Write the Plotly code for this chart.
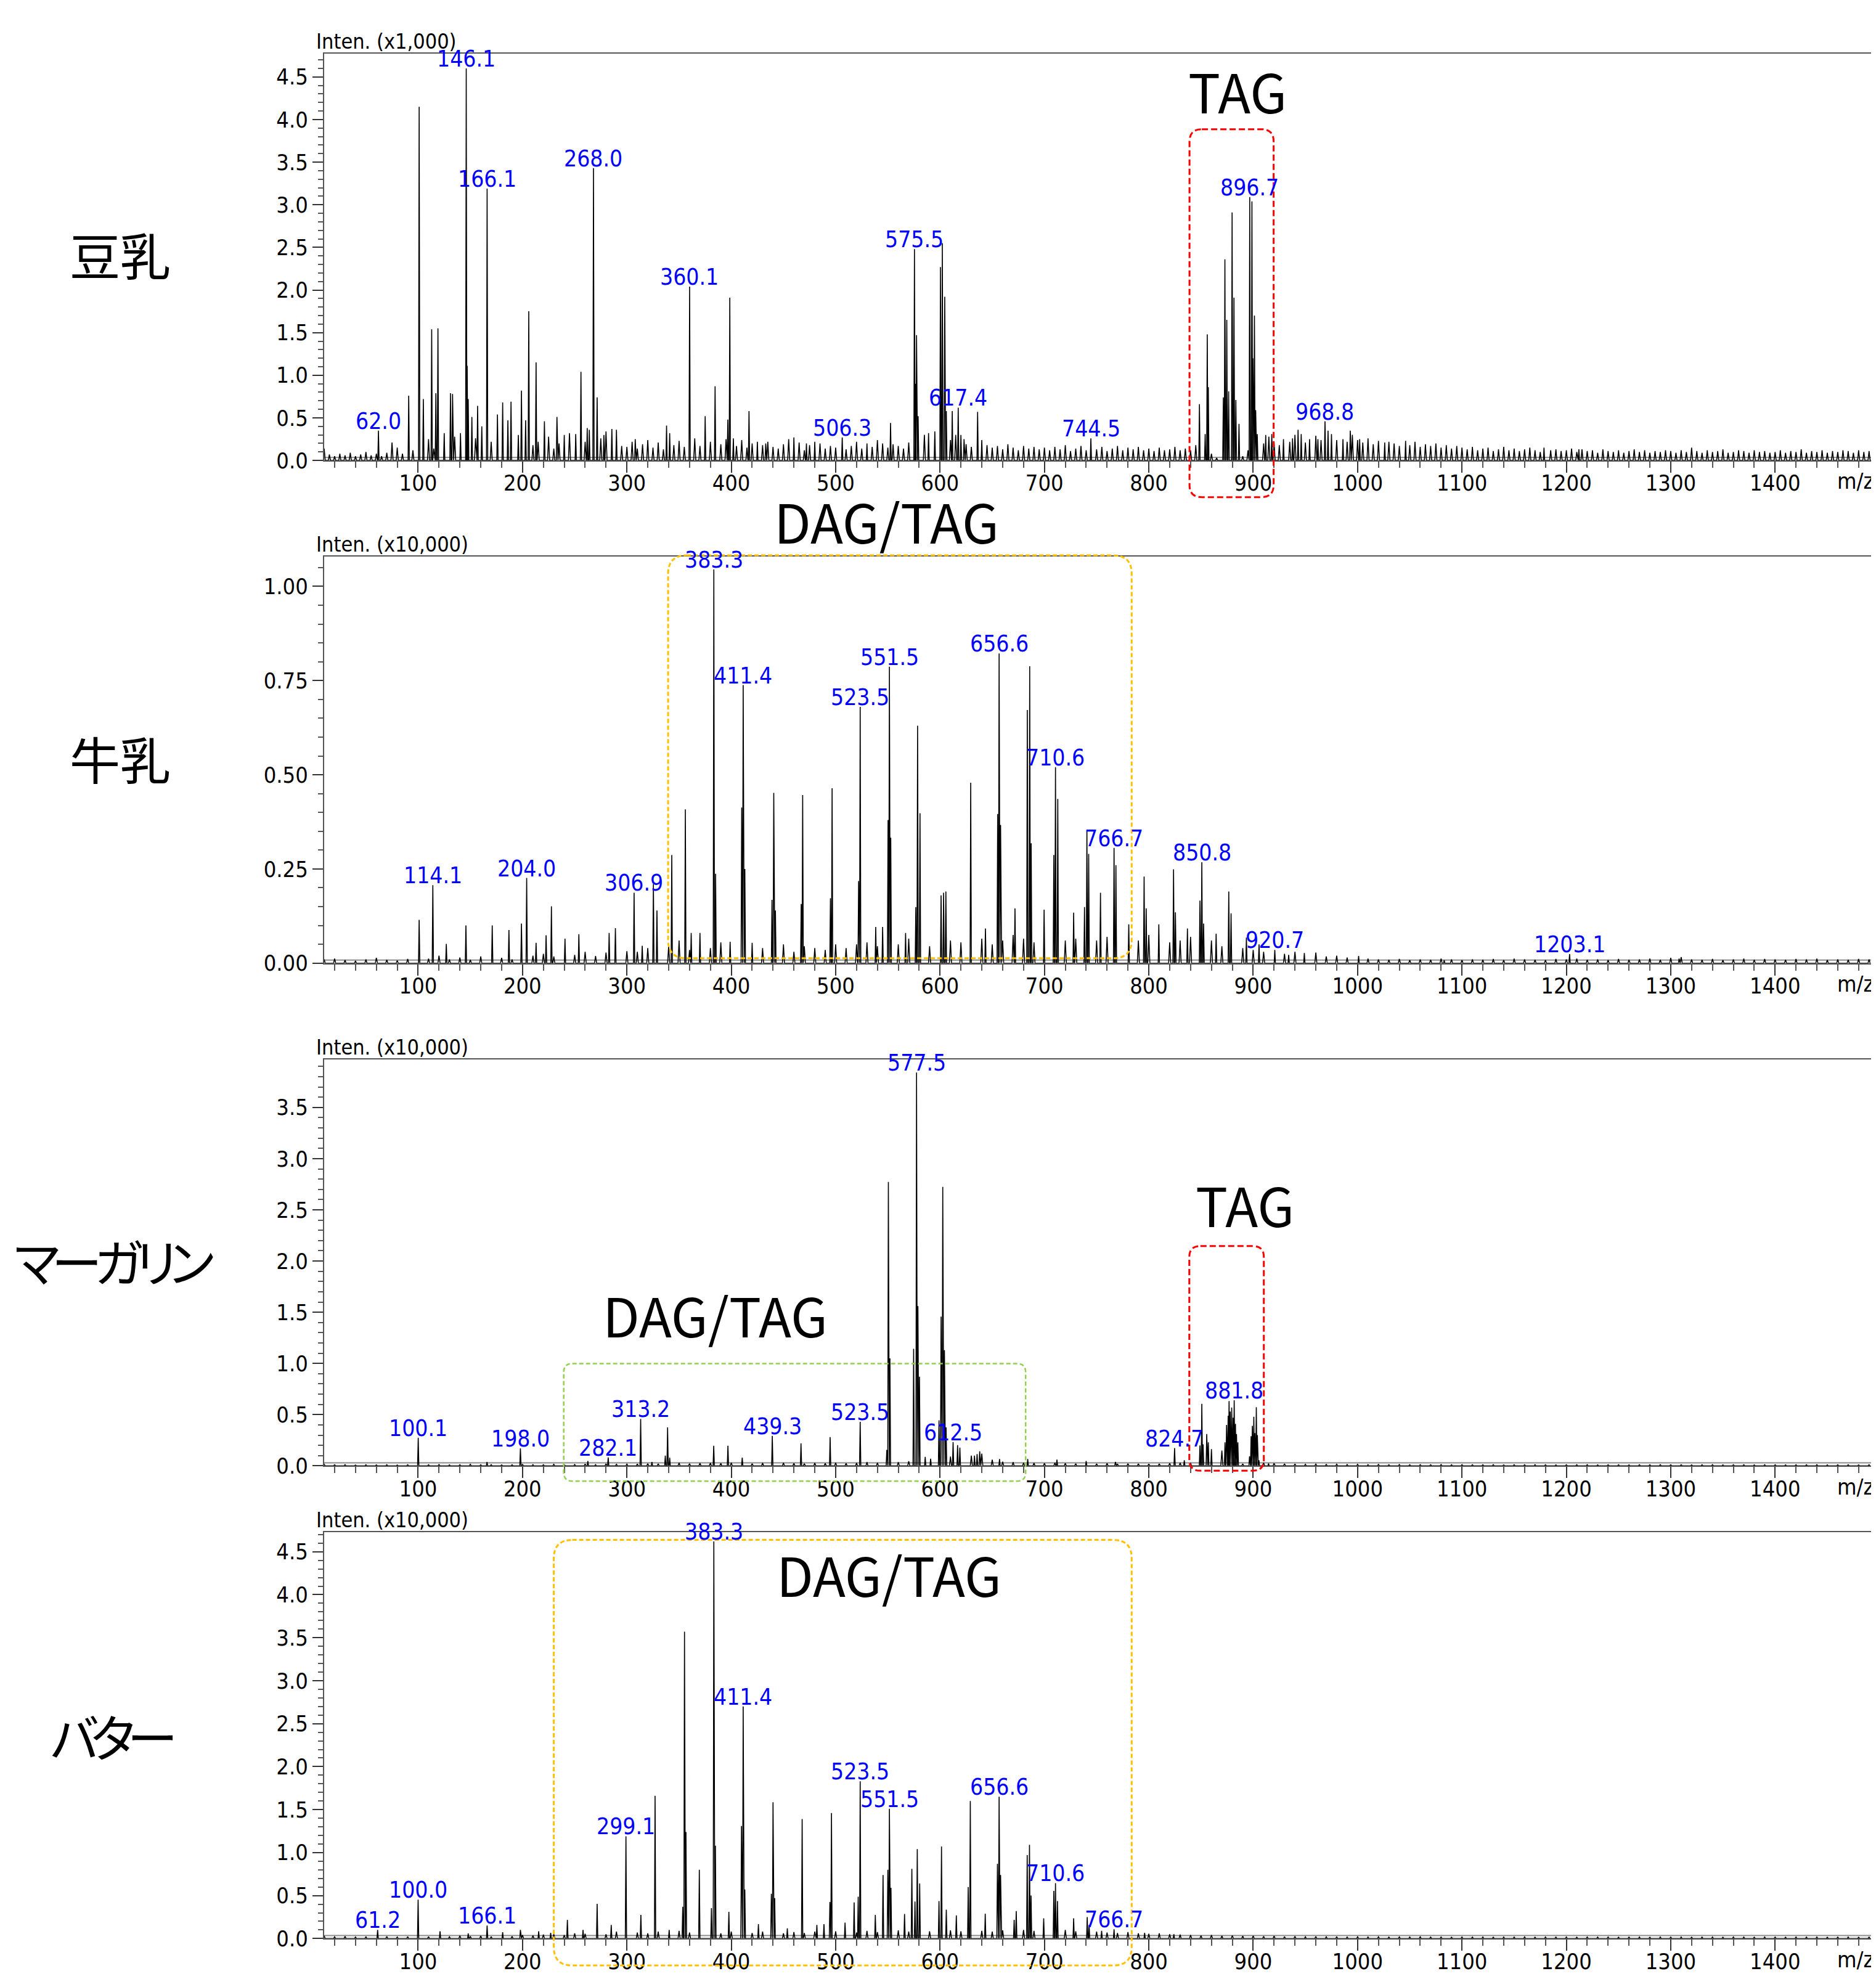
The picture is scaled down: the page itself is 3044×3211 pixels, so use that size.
import plotly.graph_objects as go

W, H = 3044, 3211

# ---------------- data (m/z, intensity) ----------------
# 豆乳 (Inten. x1,000)
SOY_MZ = [62.0, 91, 101, 105, 113, 117, 119, 125, 131, 133, 140.6, 146.1, 147, 148, 151.5, 157, 161,
          166.1, 176, 181, 186, 189, 196, 199, 203, 206, 213, 221, 233, 240, 251, 256, 262, 264, 268.0,
          271.5, 278, 285.6, 290, 308, 338, 341, 360.1, 375, 384.5, 396.7, 398.6, 402, 417, 425, 433,
          460, 472, 480, 506.3, 530, 552.6, 575.5, 576.5, 577.5, 579, 589, 595, 600.4, 602.2, 604.5,
          606, 611.7, 617.4, 620, 623, 636, 640, 744.5, 848.5, 854, 856, 857, 871.4, 872.9, 874.7,
          876.5, 879.8, 881.6, 883.4, 886.4, 896.7, 898.8, 899.7, 901.2, 902.4, 903.9, 912, 917.8, 929,
          937.7, 943, 946, 954, 962, 968.8, 971.7, 975, 986, 993, 1002, 1026, 1046, 1178.6, 1212]
SOY_INT = [0.35, 0.76, 4.15, 0.72, 1.54, 0.79, 1.55, 0.32, 0.79, 0.78, 0.32, 4.6, 1.11, 0.72, 0.51, 0.64, 0.40,
           3.19, 0.54, 0.68, 0.47, 0.69, 0.30, 0.82, 0.47, 1.75, 1.15, 0.46, 0.51, 0.30, 0.31, 1.04, 0.38, 0.36, 3.43,
           0.74, 0.30, 0.37, 0.36, 0.25, 0.41, 0.32, 2.04, 0.52, 0.87, 0.48, 1.91, 0.26, 0.58, 0.22, 0.20,
           0.27, 0.20, 0.22, 0.27, 0.20, 0.44, 2.48, 0.90, 1.47, 0.52, 0.32, 0.34, 2.27, 2.55, 1.92,
           0.58, 0.58, 0.62, 0.30, 0.25, 0.57, 0.24, 0.26, 0.66, 0.31, 1.48, 0.86, 0.74, 2.36, 1.65,
           0.81, 2.91, 1.91, 0.71, 0.43, 3.09, 3.04, 1.20, 1.70, 0.59, 0.31, 0.30, 0.31, 0.25,
           0.26, 0.36, 0.31, 0.25, 0.25, 0.46, 0.35, 0.31, 0.25, 0.35, 0.25, 0.21, 0.23, 0.15, 0.13]
SOY_NOISE_START, SOY_NOISE_STEP = 10, 5
SOY_NOISE = [0.14, 0.07, 0.05, 0.08, 0.06, 0.09, 0.05, 0.07, 0.10, 0.06, 0.08, 0.05, 0.09, 0.21, 0.15, 0.08, 0.06, 0.12,
             0.22, 0.18, 0.25, 0.14, 0.30, 0.20, 0.16, 0.28, 0.12, 0.24, 0.19, 0.26, 0.15, 0.31, 0.22, 0.18, 0.27, 0.20, 0.35, 0.24,
             0.30, 0.26, 0.18, 0.22, 0.16, 0.28, 0.14, 0.20, 0.25, 0.32, 0.28, 0.35, 0.22, 0.30, 0.18, 0.26, 0.34, 0.20, 0.24, 0.17,
             0.16, 0.22, 0.14, 0.19, 0.24, 0.15, 0.21, 0.13, 0.28, 0.18, 0.23, 0.16, 0.20, 0.26, 0.17, 0.14, 0.22, 0.30, 0.19, 0.25,
             0.21, 0.17, 0.24, 0.15, 0.20, 0.13, 0.18, 0.22, 0.16, 0.14, 0.19, 0.25, 0.15, 0.21, 0.12, 0.18, 0.16, 0.20, 0.14, 0.17,
             0.15, 0.19, 0.13, 0.17, 0.22, 0.14, 0.18, 0.16, 0.24, 0.20, 0.15, 0.19, 0.17, 0.14, 0.21, 0.13, 0.18, 0.30, 0.22, 0.20,
             0.35, 0.28, 0.24, 0.30, 0.22, 0.19, 0.16, 0.20, 0.14, 0.18, 0.15, 0.17, 0.13, 0.19, 0.15, 0.12, 0.17, 0.14, 0.16, 0.13,
             0.15, 0.12, 0.16, 0.13, 0.18, 0.11, 0.14, 0.17, 0.12, 0.15, 0.13, 0.16, 0.11, 0.14, 0.17, 0.12, 0.15, 0.13, 0.16, 0.12,
             0.14, 0.11, 0.15, 0.12, 0.13, 0.16, 0.12, 0.14, 0.12, 0.18, 0.42, 0.55, 0.08, 0.03, 0.30, 0.90, 1.10, 0.55, 0.05, 0.12,
             1.30, 0.25, 0.20, 0.28, 0.22, 0.18, 0.26, 0.22, 0.30, 0.27, 0.21, 0.25, 0.29, 0.24, 0.33, 0.28, 0.24, 0.27, 0.22, 0.30,
             0.24, 0.21, 0.26, 0.19, 0.23, 0.18, 0.22, 0.20, 0.17, 0.21, 0.18, 0.22, 0.16, 0.19, 0.17, 0.20, 0.15, 0.18, 0.14, 0.17,
             0.15, 0.13, 0.16, 0.12, 0.14, 0.15, 0.11, 0.13, 0.16, 0.12, 0.14, 0.11, 0.13, 0.15, 0.12, 0.10, 0.14, 0.12, 0.13, 0.11,
             0.12, 0.14, 0.10, 0.13, 0.11, 0.12, 0.09, 0.13, 0.11, 0.10, 0.12, 0.09, 0.11, 0.13, 0.10, 0.12, 0.09, 0.11, 0.10, 0.12,
             0.11, 0.09, 0.12, 0.10, 0.15, 0.11, 0.09, 0.12, 0.10, 0.11, 0.13, 0.09, 0.10, 0.12, 0.11, 0.09, 0.12, 0.10, 0.11, 0.09,
             0.10, 0.12, 0.09, 0.11, 0.10, 0.13, 0.09, 0.11, 0.10, 0.12, 0.09, 0.11, 0.10, 0.12, 0.11, 0.09, 0.12, 0.10, 0.11, 0.13]
SOY_LABELS = ["62.0", "146.1", "166.1", "268.0", "360.1", "506.3", "575.5", "617.4", "744.5", "896.7", "968.8"]

# 牛乳 (Inten. x10,000)
MILK_MZ = [101, 114.1, 127, 145.8, 171, 187, 199, 204.0, 213, 222.6, 227.7, 240.7, 254, 283, 289, 306.9,
           314.7, 325.4, 328.8, 343, 356, 361.6, 370, 383.3, 385, 398.9, 410, 411.4, 413, 420, 439, 440.7,
           442.3, 467, 468.4, 495, 496.6, 522, 523.5, 538.4, 545, 550.2, 551.5, 552.8, 567, 576.8, 578.5,
           580.8, 601, 603.4, 605.6, 629.4, 643.5, 655.2, 656.6, 658, 671.8, 683.6, 685.9, 687.3, 699.7,
           709, 710.6, 712.8, 728, 738.4, 740.7, 742.4, 753.7, 766.7, 768.5, 780.8, 795.5, 797.5, 809.6,
           823.7, 825.5, 837, 849, 850.8, 852.5, 864.5, 876.6, 878.8, 893.5, 905.6, 920.7, 934, 949,
           1001, 1083, 1203.1, 1308]
MILK_INT = [0.115, 0.207, 0.051, 0.10, 0.10, 0.088, 0.105, 0.226, 0.054, 0.074, 0.151, 0.065, 0.077, 0.08, 0.093, 0.187,
            0.046, 0.21, 0.14, 0.287, 0.408, 0.08, 0.08, 1.045, 0.237, 0.057, 0.413, 0.738, 0.25, 0.054, 0.168, 0.452,
            0.14, 0.157, 0.446, 0.172, 0.464, 0.218, 0.68, 0.096, 0.096, 0.38, 0.787, 0.333, 0.08, 0.149, 0.63,
            0.398, 0.18, 0.187, 0.19, 0.479, 0.092, 0.396, 0.822, 0.367, 0.145, 0.672, 0.788, 0.318, 0.142,
            0.287, 0.52, 0.436, 0.134, 0.149, 0.352, 0.29, 0.187, 0.306, 0.26, 0.103, 0.23, 0.145, 0.103,
            0.249, 0.135, 0.092, 0.166, 0.268, 0.105, 0.078, 0.19, 0.132, 0.068, 0.05, 0.035, 0.022, 0.027,
            0.019, 0.008, 0.024, 0.012]
MILK_NOISE_START, MILK_NOISE_STEP = 10, 10
MILK_NOISE = [0.010, 0.012, 0.008, 0.006, 0.010, 0.014, 0.009, 0.007, 0.011, 0.008,
              0.012, 0.020, 0.010, 0.015, 0.009, 0.018, 0.011, 0.014, 0.010, 0.016,
              0.020, 0.025, 0.018, 0.035, 0.022, 0.030, 0.019, 0.028, 0.024, 0.032,
              0.030, 0.040, 0.025, 0.045, 0.060, 0.035, 0.050, 0.040, 0.055, 0.060,
              0.045, 0.050, 0.040, 0.035, 0.050, 0.030, 0.045, 0.040, 0.035, 0.050,
              0.040, 0.050, 0.055, 0.045, 0.060, 0.050, 0.065, 0.055, 0.045, 0.070,
              0.060, 0.055, 0.070, 0.065, 0.050, 0.060, 0.075, 0.065, 0.055, 0.080,
              0.070, 0.060, 0.065, 0.075, 0.060, 0.070, 0.055, 0.065, 0.060, 0.075,
              0.065, 0.055, 0.060, 0.070, 0.050, 0.060, 0.045, 0.055, 0.040, 0.035,
              0.030, 0.038, 0.025, 0.030, 0.022, 0.028, 0.018, 0.020, 0.015, 0.022,
              0.012, 0.010, 0.009, 0.011, 0.008, 0.010, 0.009, 0.012, 0.010, 0.008,
              0.010, 0.009, 0.011, 0.008, 0.012, 0.010, 0.009, 0.008, 0.011, 0.010,
              0.012, 0.009, 0.010, 0.008, 0.011, 0.009, 0.010, 0.012, 0.009, 0.014,
              0.016, 0.010, 0.009, 0.011, 0.008, 0.010, 0.012, 0.009, 0.011, 0.010,
              0.009, 0.011, 0.010, 0.012, 0.008, 0.010, 0.009, 0.011, 0.010]
MILK_LABELS = ["114.1", "204.0", "306.9", "383.3", "411.4", "523.5", "551.5", "656.6", "710.6",
               "766.7", "850.8", "920.7", "1203.1"]

# マーガリン (Inten. x10,000)
MARG_MZ = [100.1, 166, 198.0, 262.6, 282.1, 313.2, 324, 336.8, 339, 341, 383.2, 396.8, 410.5, 439.3, 466.8,
           494.7, 523.5, 549, 550.5, 552, 574.7, 577.5, 578.8, 580.3, 585.8, 591, 599, 601, 602.6, 604.2,
           605.8, 612.5, 616.8, 619, 633, 635.5, 638, 657, 684, 712, 740, 768, 824.7, 834, 849, 850.8,
           852, 855.5, 857, 860, 873, 874.5, 876, 876.9, 878, 879.4, 880.8, 881.8, 883, 884, 885.3,
           896.5, 898, 899.2, 900.6, 901.6, 903, 904, 905.5, 914.7]
MARG_INT = [0.274, 0.038, 0.17, 0.047, 0.082, 0.458, 0.038, 0.10, 0.375, 0.08, 0.197, 0.197, 0.08, 0.293, 0.219,
            0.28, 0.43, 0.156, 2.773, 1.05, 1.143, 3.84, 1.56, 0.87, 0.088, 0.07, 0.444, 1.458, 2.724, 1.13,
            0.375, 0.233, 0.203, 0.178, 0.10, 0.115, 0.142, 0.066, 0.066, 0.06, 0.047, 0.038, 0.173, 0.054, 0.20, 0.605,
            0.21, 0.31, 0.23, 0.163, 0.23, 0.40, 0.49, 0.633, 0.53, 0.57, 0.47, 0.64, 0.41, 0.31, 0.23,
            0.093, 0.29, 0.39, 0.48, 0.32, 0.573, 0.30, 0.054, 0.024]
MARG_NOISE_START, MARG_NOISE_STEP = 10, 10
MARG_NOISE = [0.015, 0.010, 0.012, 0.008, 0.010, 0.009, 0.011, 0.008, 0.010, 0.012,
              0.010, 0.013, 0.009, 0.011, 0.015, 0.010, 0.012, 0.009, 0.011, 0.014,
              0.012, 0.010, 0.015, 0.011, 0.013, 0.018, 0.012, 0.020, 0.015, 0.017,
              0.018, 0.022, 0.020, 0.025, 0.030, 0.022, 0.026, 0.028, 0.024, 0.030,
              0.026, 0.022, 0.028, 0.024, 0.030, 0.025, 0.022, 0.028, 0.024, 0.030,
              0.025, 0.028, 0.035, 0.030, 0.040, 0.035, 0.045, 0.060, 0.050, 0.070,
              0.090, 0.080, 0.100, 0.120, 0.060, 0.040, 0.035, 0.030, 0.028, 0.025,
              0.030, 0.025, 0.022, 0.026, 0.020, 0.024, 0.018, 0.022, 0.020, 0.018,
              0.020, 0.025, 0.030, 0.028, 0.150, 0.040, 0.150, 0.300, 0.020, 0.250,
              0.030, 0.025, 0.020, 0.018, 0.015, 0.017, 0.014, 0.016, 0.013, 0.015,
              0.012, 0.014, 0.011, 0.013, 0.010, 0.012, 0.011, 0.013, 0.010, 0.012,
              0.011, 0.010, 0.012, 0.009, 0.011, 0.010, 0.012, 0.010, 0.009, 0.011,
              0.010, 0.012, 0.009, 0.011, 0.010, 0.009, 0.011, 0.010, 0.012, 0.010,
              0.011, 0.009, 0.010, 0.012, 0.009, 0.011, 0.010, 0.009, 0.011, 0.010,
              0.009, 0.011, 0.010, 0.012, 0.009, 0.010, 0.011, 0.009, 0.010]
MARG_LABELS = ["100.1", "198.0", "282.1", "313.2", "439.3", "523.5", "577.5", "612.5", "824.7", "881.8"]

# バター (Inten. x10,000)
BUTTER_MZ = [61.2, 100.0, 121, 148, 166.1, 181, 198, 215.5, 227, 243, 258, 271.5, 285, 299.1, 313.4, 327,
             340.5, 353.5, 355.2, 356.6, 369.4, 381, 383.3, 384.8, 397.7, 409.8, 411.4, 413, 426, 438.4,
             440, 441.6, 453.7, 467.9, 482, 488.8, 494.5, 496, 509, 517.7, 521.6, 523.5, 538, 545.4, 550,
             551.5, 553, 566, 573, 576, 578.2, 580.5, 599, 601.4, 606, 615.6, 627, 629, 643.3, 655, 656.6,
             658, 671, 673, 683.5, 685.7, 687.2, 699.3, 709, 710.6, 712.5, 728, 741, 742.8, 754.8, 766.7,
             796, 824]
BUTTER_INT = [0.10, 0.453, 0.084, 0.06, 0.151, 0.074, 0.10, 0.084, 0.067, 0.218, 0.10, 0.403, 0.158, 1.19, 0.275, 1.66,
              0.10, 0.37, 3.57, 1.24, 0.80, 0.353, 4.62, 1.08, 0.31, 1.31, 2.70, 0.57, 0.168, 0.52,
              1.585, 0.47, 0.118, 1.39, 0.158, 0.168, 0.426, 1.46, 0.185, 0.42, 0.487, 1.83, 0.275, 0.74, 0.80,
              1.51, 0.59, 0.285, 0.81, 0.43, 1.04, 0.64, 0.436, 1.07, 0.336, 0.27, 0.60, 1.60, 0.29, 0.87, 1.65,
              0.74, 0.218, 0.32, 0.97, 1.09, 0.50, 0.235, 0.554, 0.645, 0.436, 0.235, 0.25, 0.158, 0.09, 0.107,
              0.067, 0.05]
BUTTER_NOISE_START, BUTTER_NOISE_STEP = 10, 10
BUTTER_NOISE = [0.030, 0.020, 0.025, 0.018, 0.022, 0.020, 0.024, 0.018, 0.021, 0.025,
                0.022, 0.028, 0.020, 0.032, 0.025, 0.030, 0.022, 0.035, 0.026, 0.040,
                0.035, 0.045, 0.050, 0.040, 0.060, 0.055, 0.070, 0.050, 0.080, 0.060,
                0.070, 0.060, 0.080, 0.065, 0.090, 0.070, 0.075, 0.085, 0.060, 0.080,
                0.075, 0.065, 0.080, 0.070, 0.060, 0.075, 0.065, 0.080, 0.070, 0.085,
                0.080, 0.070, 0.090, 0.075, 0.085, 0.095, 0.080, 0.100, 0.085, 0.090,
                0.095, 0.085, 0.100, 0.090, 0.080, 0.095, 0.085, 0.100, 0.090, 0.110,
                0.095, 0.100, 0.085, 0.090, 0.080, 0.070, 0.065, 0.075, 0.060, 0.055,
                0.060, 0.050, 0.045, 0.040, 0.035, 0.040, 0.030, 0.035, 0.028, 0.030,
                0.025, 0.028, 0.022, 0.025, 0.020, 0.024, 0.020, 0.022, 0.018, 0.020,
                0.018, 0.020, 0.016, 0.019, 0.017, 0.020, 0.016, 0.018, 0.015, 0.017,
                0.016, 0.018, 0.015, 0.017, 0.016, 0.019, 0.015, 0.017, 0.016, 0.018,
                0.015, 0.017, 0.016, 0.018, 0.015, 0.016, 0.017, 0.015, 0.018, 0.016,
                0.017, 0.015, 0.016, 0.018, 0.015, 0.017, 0.016, 0.015, 0.017, 0.016,
                0.015, 0.017, 0.016, 0.018, 0.015, 0.016, 0.017, 0.015, 0.016]
BUTTER_LABELS = ["61.2", "100.0", "166.1", "299.1", "383.3", "411.4", "523.5", "551.5", "656.6",
                 "710.6", "766.7"]

SAMPLE_NAMES = ["豆乳", "牛乳", "マーガリン", "バター"]
UNIT_LABELS = ["Inten. (x1,000)", "Inten. (x10,000)", "Inten. (x10,000)", "Inten. (x10,000)"]

# ---------------- layout settings ----------------
NARROW = "Liberation Sans Narrow, DejaVu Sans Condensed, Arial Narrow, Liberation Sans, sans-serif"
CJK = "Noto Sans CJK JP, Noto Sans, sans-serif"

PLOT_LEFT_PX, PLOT_RIGHT_PX = 518, 3041
PANELS = [
    dict(mz=SOY_MZ, inten=SOY_INT, noise=SOY_NOISE, n0=SOY_NOISE_START, nstep=SOY_NOISE_STEP,
         labels=SOY_LABELS, top_px=80, bot_px=744, ymax=4.77, dtick=0.5, mdtick=0.1, fmt=".1f"),
    dict(mz=MILK_MZ, inten=MILK_INT, noise=MILK_NOISE, n0=MILK_NOISE_START, nstep=MILK_NOISE_STEP,
         labels=MILK_LABELS, top_px=901, bot_px=1565, ymax=1.079, dtick=0.25, mdtick=0.05, fmt=".2f"),
    dict(mz=MARG_MZ, inten=MARG_INT, noise=MARG_NOISE, n0=MARG_NOISE_START, nstep=MARG_NOISE_STEP,
         labels=MARG_LABELS, top_px=1722, bot_px=2386, ymax=3.97, dtick=0.5, mdtick=0.1, fmt=".1f"),
    dict(mz=BUTTER_MZ, inten=BUTTER_INT, noise=BUTTER_NOISE, n0=BUTTER_NOISE_START, nstep=BUTTER_NOISE_STEP,
         labels=BUTTER_LABELS, top_px=2494, bot_px=3158, ymax=4.73, dtick=0.5, mdtick=0.1, fmt=".1f"),
]
NAME_POS_PX = [(187, 406), (187, 1230), (176, 2050), (173, 2826)]
NAME_SPACING = ["0px", "0px", "-12px", "-12px"]

# dashed rounded boxes: panel, m/z left, m/z right, top px, bottom px, color, corner px, dash, width
BOXES = [
    (0, 839.0, 919.6, 203, 804, "#ff0000", 20, "10px,5px", 3),
    (1, 339.5, 783.6, 899, 1557, "#ffc000", 30, "7px,4px", 3),
    (2, 239.5, 682.0, 2219, 2411, "#92d050", 14, "7px,4px", 2.5),
    (2, 838.8, 910.2, 2027, 2394, "#ff0000", 18, "10px,5px", 3),
    (3, 230.0, 783.6, 2507, 3202, "#ffc000", 30, "7px,4px", 3),
]
BOX_TEXTS = [("TAG", 2000, 139), ("DAG/TAG", 1430, 842), ("DAG/TAG", 1152, 2138),
             ("TAG", 2012, 1958), ("DAG/TAG", 1434, 2562)]

X_MIN, X_MAX = 10, 1499.6
PX_PER_MZ = (PLOT_RIGHT_PX - PLOT_LEFT_PX) / (X_MAX - X_MIN)


def px(x):
    return x / W


def py(y):
    return 1 - y / H


def sticks(mz, inten, noise, n0, nstep, wp=0.6, wn=1.0):
    items = [(m, h, wp) for m, h in zip(mz, inten)]
    for i, h in enumerate(noise):
        m = n0 + i * nstep
        if min(abs(m - p) for p in mz) > 1.6:
            items.append((m, h, wn))
    items.sort()
    xs, ys = [], []
    for m, h, w in items:
        xs += [m - w, m, m + w]
        ys += [0, h, 0]
    return xs, ys


fig = go.Figure()
layout = dict(width=W, height=H, margin=dict(l=0, r=0, t=0, b=0), paper_bgcolor="white",
              plot_bgcolor="white", showlegend=False)
annotations = []
shapes = []

for i, p in enumerate(PANELS):
    sfx = "" if i == 0 else str(i + 1)
    xs, ys = sticks(p["mz"], p["inten"], p["noise"], p["n0"], p["nstep"])
    fig.add_trace(go.Scatter(x=xs, y=ys, mode="lines", line=dict(color="black", width=1.6),
                             xaxis="x" + sfx, yaxis="y" + sfx, hoverinfo="skip"))
    layout["xaxis" + sfx] = dict(
        domain=[px(PLOT_LEFT_PX), px(PLOT_RIGHT_PX)], anchor="y" + sfx, range=[X_MIN, X_MAX],
        tick0=0, dtick=100, ticks="outside", ticklen=18, tickwidth=2, tickcolor="#333",
        ticklabelstandoff=-14,
        minor=dict(tick0=0, dtick=20, ticks="outside", ticklen=10, tickwidth=1.5, tickcolor="#555"),
        showline=True, linecolor="#555", linewidth=2, mirror=True, showgrid=False, zeroline=False,
        tickfont=dict(family=NARROW, size=36, color="black"), fixedrange=True)
    layout["yaxis" + sfx] = dict(
        domain=[py(p["bot_px"]), py(p["top_px"])], anchor="x" + sfx, range=[0, p["ymax"]],
        tick0=0, dtick=p["dtick"], tickformat=p["fmt"], ticks="outside", ticklen=17, tickwidth=2,
        tickcolor="#333",
        minor=dict(tick0=0, dtick=p["mdtick"], ticks="outside", ticklen=8, tickwidth=1.5, tickcolor="#555"),
        showline=True, linecolor="#555", linewidth=2, mirror=True, showgrid=False, zeroline=False,
        tickfont=dict(family=NARROW, size=36, color="black"), fixedrange=True)

    # gray baseline slightly above the axis
    shapes.append(dict(type="line", xref="paper", yref="paper", x0=px(PLOT_LEFT_PX), x1=px(PLOT_RIGHT_PX),
                       y0=py(p["bot_px"] - 5), y1=py(p["bot_px"] - 5), line=dict(color="#8c8c8c", width=2),
                       layer="below"))

    # unit label and m/z label
    annotations.append(dict(text=UNIT_LABELS[i], xref="paper", yref="paper", x=px(503), y=py(p["top_px"] - 1),
                            xanchor="left", yanchor="bottom", yshift=-3, showarrow=False,
                            font=dict(family=NARROW, size=34, color="black")))
    annotations.append(dict(text="m/z", xref="paper", yref="paper", x=px(3034), y=py(p["bot_px"] + 34),
                            xanchor="right", yanchor="middle", showarrow=False,
                            font=dict(family=NARROW, size=36, color="black")))

    # peak labels
    for lab in p["labels"]:
        m = float(lab)
        j = min(range(len(p["mz"])), key=lambda k: abs(p["mz"][k] - m))
        annotations.append(dict(text=lab, xref="x" + sfx, yref="y" + sfx, x=m, y=p["inten"][j],
                                xanchor="center", yanchor="bottom", yshift=-8, showarrow=False,
                                font=dict(family=NARROW, size=37, color="#0000ff")))

    # sample name (proportional kana)
    nx, ny = NAME_POS_PX[i]
    annotations.append(dict(text=("<span style=\"font-feature-settings:'palt';letter-spacing:" + NAME_SPACING[i]
                                  + "\">" + SAMPLE_NAMES[i] + "</span>"),
                            xref="paper", yref="paper", x=px(nx), y=py(ny),
                            xanchor="center", yanchor="middle", showarrow=False,
                            font=dict(family=CJK, size=82, color="black")))

# rounded dashed boxes (x in m/z, y in paper)
for (pi, m0, m1, tpx, bpx, col, rad, dash, lw) in BOXES:
    sfx = "" if pi == 0 else str(pi + 1)
    rx = rad / PX_PER_MZ
    y1, y0 = py(tpx), py(bpx)
    ry = rad / H
    path = (f"M {m0 + rx},{y1} L {m1 - rx},{y1} Q {m1},{y1} {m1},{y1 - ry} "
            f"L {m1},{y0 + ry} Q {m1},{y0} {m1 - rx},{y0} L {m0 + rx},{y0} "
            f"Q {m0},{y0} {m0},{y0 + ry} L {m0},{y1 - ry} Q {m0},{y1} {m0 + rx},{y1} Z")
    shapes.append(dict(type="path", xref="x" + sfx, yref="paper", path=path,
                       line=dict(color=col, width=lw, dash=dash), fillcolor="rgba(0,0,0,0)"))

for (t, x, y) in BOX_TEXTS:
    annotations.append(dict(text=t, xref="paper", yref="paper", x=px(x), y=py(y), xanchor="center",
                            yanchor="middle", showarrow=False, font=dict(family=CJK, size=87, color="black")))

layout["annotations"] = annotations
layout["shapes"] = shapes
fig.update_layout(**layout)
fig.write_html("out.html")
